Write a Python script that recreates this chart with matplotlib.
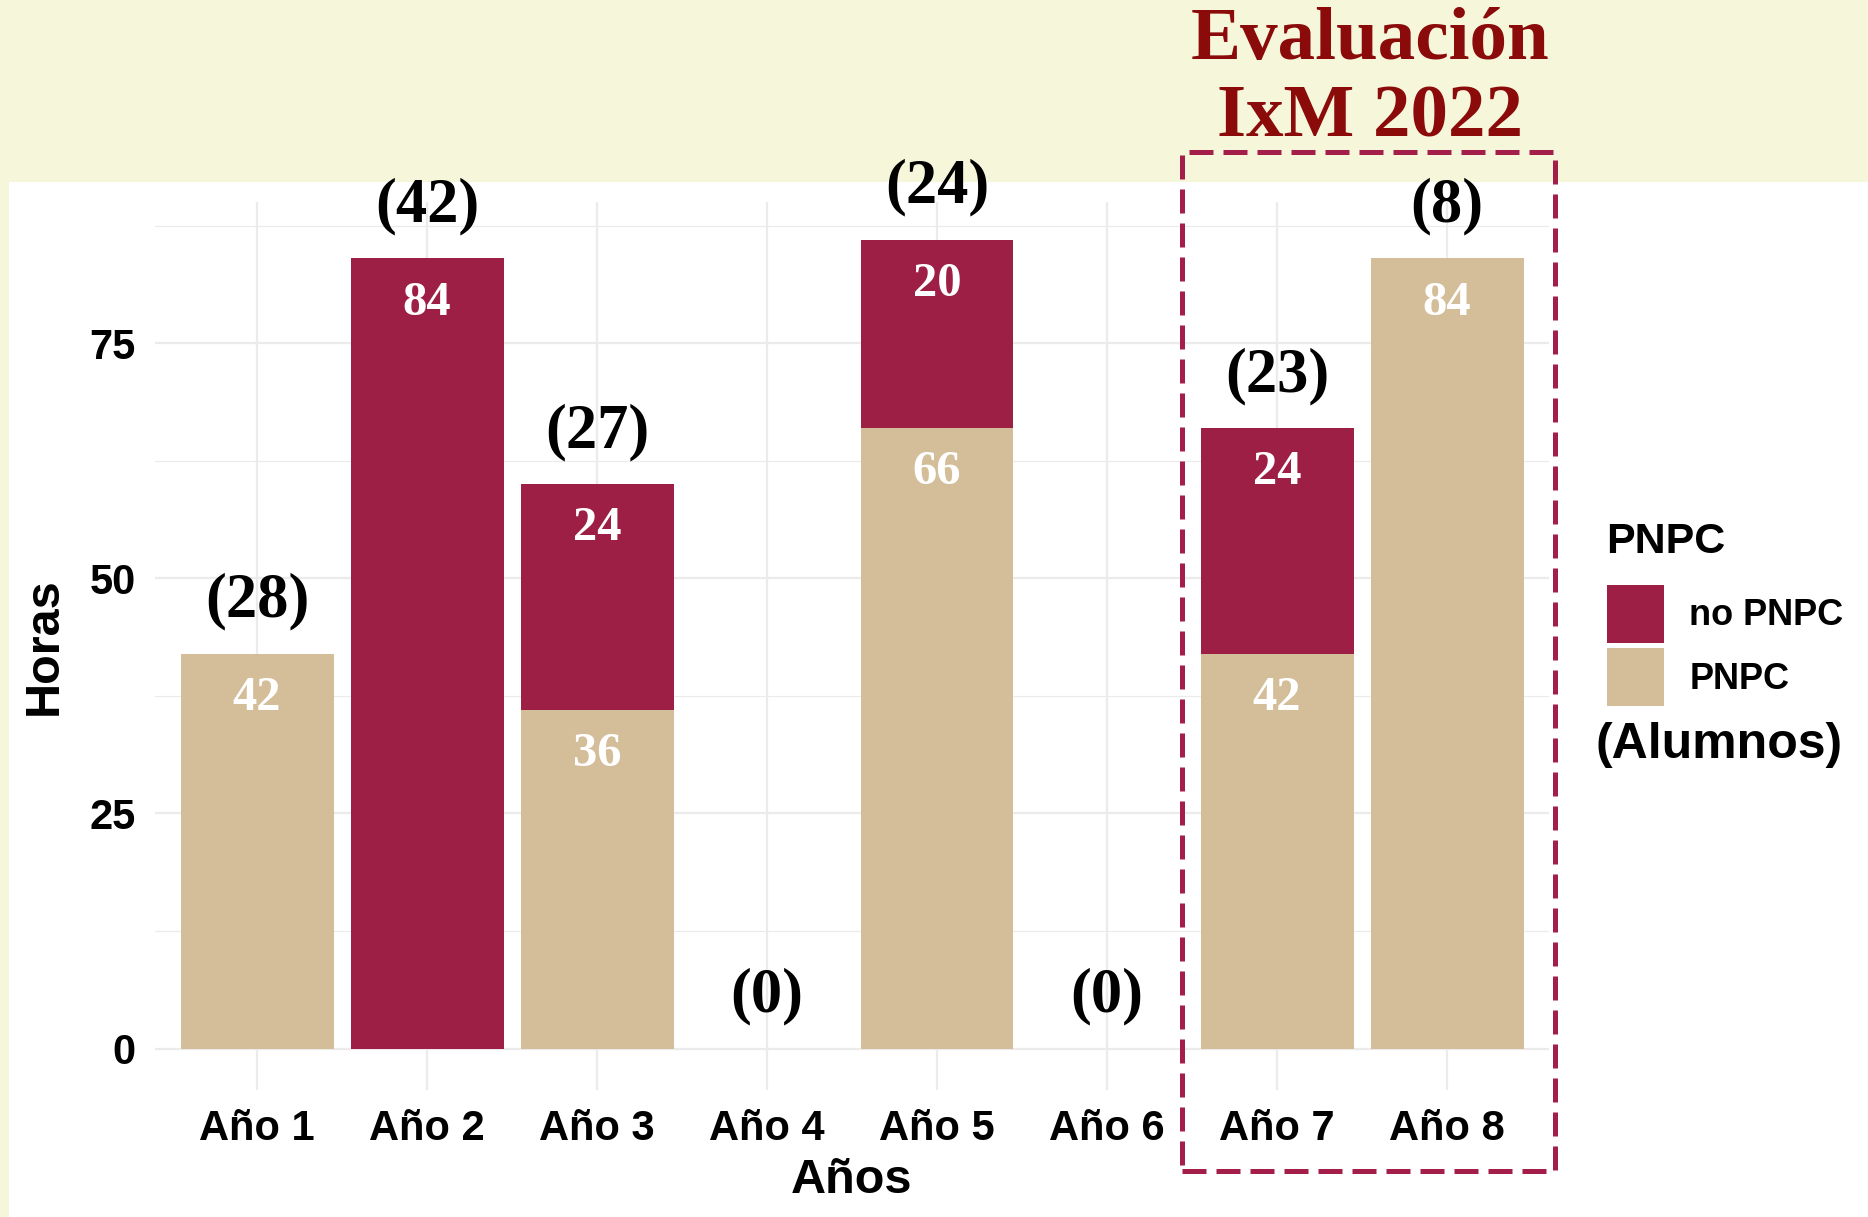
import numpy as np
import matplotlib.pyplot as plt
from matplotlib.patches import Rectangle, Patch

# Datos
anios = ['Año 1', 'Año 2', 'Año 3', 'Año 4', 'Año 5', 'Año 6', 'Año 7', 'Año 8']
horas_pnpc = [42, 0, 36, 0, 66, 0, 42, 84]
horas_no_pnpc = [0, 84, 24, 0, 20, 0, 24, 0]
alumnos = [28, 42, 27, 0, 24, 0, 23, 8]

col_no = '#9E1F45'
col_si = '#D4BE99'
crema = '#F6F6DB'

plt.rcParams['font.family'] = ['Liberation Sans', 'DejaVu Sans']
serif = ['Liberation Serif', 'DejaVu Serif']

fig = plt.figure(figsize=(18.68, 12.17), dpi=100, facecolor=crema)
# panel blanco
fig.patches.append(Rectangle((9 / 1868, 0), 1, 1 - 182 / 1217, transform=fig.transFigure,
                             facecolor='white', edgecolor='none', zorder=-1))

ax = fig.add_axes([155 / 1868, 1 - 1090 / 1217, (1549 - 155) / 1868, (1090 - 202) / 1217])
ax.set_zorder(1)
ax.set_facecolor('none')

x = np.arange(1, len(anios) + 1)
pnpc = np.array(horas_pnpc)
no_pnpc = np.array(horas_no_pnpc)
total = pnpc + no_pnpc

ax.bar(x, pnpc, width=0.9, color=col_si, zorder=2)
ax.bar(x, no_pnpc, width=0.9, bottom=pnpc, color=col_no, zorder=2)

# etiquetas dentro de las barras
for xi, a, b in zip(x, pnpc, no_pnpc):
    if a > 0:
        ax.text(xi, a - 4.7, str(a), ha='center', va='center', color='white',
                fontsize=35, fontweight='bold', family=serif, zorder=3)
    if b > 0:
        ax.text(xi, a + b - 4.7, str(b), ha='center', va='center', color='white',
                fontsize=35, fontweight='bold', family=serif, zorder=3)

# número de alumnos
for xi, t, n in zip(x, total, alumnos):
    ax.text(xi, t + 5.5, f'({n})', ha='center', va='center', color='black',
            fontsize=45, fontweight='bold', family=serif, zorder=3, clip_on=False)

ax.set_xlim(0.4, 8.6)
ax.set_ylim(-4.4, 90.0)
ax.set_xticks(x)
ax.set_xticklabels(anios)
ax.set_yticks([0, 25, 50, 75])
ax.set_yticks([12.5, 37.5, 62.5, 87.5], minor=True)
ax.tick_params(axis='both', which='both', length=0, labelsize=30)
ax.tick_params(axis='x', pad=14)
ax.tick_params(axis='y', pad=14)
for lab in ax.get_xticklabels() + ax.get_yticklabels():
    lab.set_fontweight('bold')
ax.grid(True, which='major', color='#EBEBEB', linewidth=1.6, zorder=0)
ax.grid(True, which='minor', axis='y', color='#EBEBEB', linewidth=0.8, zorder=0)
ax.set_axisbelow(True)
for s in ax.spines.values():
    s.set_visible(False)

ax.set_xlabel('Años', fontsize=35, fontweight='bold', labelpad=6)
ax.set_ylabel('Horas', fontsize=35, fontweight='bold', labelpad=16)

# leyenda
handles = [Patch(facecolor=col_no, edgecolor='none', label='no PNPC'),
           Patch(facecolor=col_si, edgecolor='none', label='PNPC')]
leg = fig.legend(handles=handles, loc='upper left', bbox_to_anchor=(1607 / 1868, 1 - 585 / 1217),
                 frameon=False, prop={'weight': 'bold', 'size': 26},
                 handlelength=1.58, handleheight=2.1, labelspacing=0.14,
                 handletextpad=0.7, borderpad=0, borderaxespad=0)
fig.text(1606 / 1868, 1 - 542 / 1217, 'PNPC', ha='left', va='center',
         fontsize=31, fontweight='bold')
fig.text(1596 / 1868, 1 - 745 / 1217, '(Alumnos)', ha='left', va='center',
         fontsize=36, fontweight='bold')

# recuadro de evaluación
fig.patches.append(Rectangle((1182 / 1868, 1 - 1171 / 1217), (1555 - 1182) / 1868,
                             (1171 - 152) / 1217, transform=fig.transFigure,
                             facecolor='none', edgecolor='#A31F4A', linewidth=3.6,
                             linestyle=(0, (4.8, 2)), zorder=5))
fig.text(1370 / 1868, 1 - 80 / 1217, 'Evaluación\nIxM 2022', ha='center', va='center',
         fontsize=54, fontweight='bold', color='#8B0A0A', family=serif, linespacing=1.18)

fig.savefig('out.png', dpi=100, facecolor=crema)
